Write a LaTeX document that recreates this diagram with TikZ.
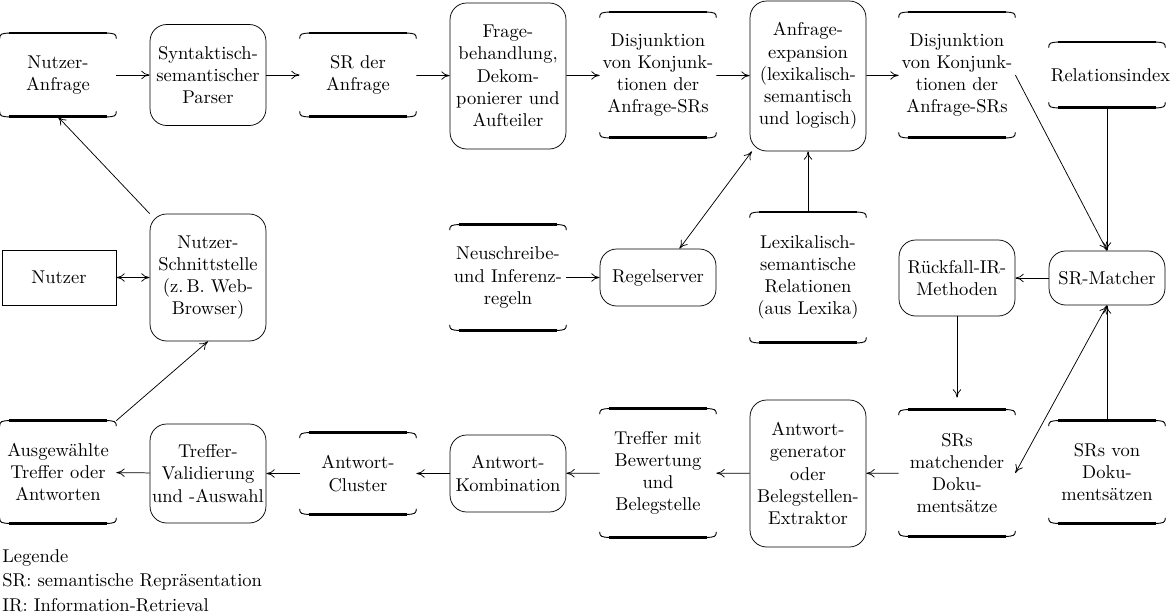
\documentclass[tikz,border=0pt]{standalone}
\usepackage{fontspec}
\usetikzlibrary{arrows.meta}
\newcommand\drawstore[1]{%
 \draw[line width=0.5pt] ([yshift=-3pt]#1.north west) .. controls ([yshift=-0.5pt]#1.north west) and ([xshift=1pt]#1.north west) .. ([xshift=5.5pt]#1.north west) -- ([xshift=-5.5pt]#1.north east) .. controls ([xshift=-1pt]#1.north east) and ([yshift=-0.5pt]#1.north east) .. ([yshift=-3pt]#1.north east);
 \draw[line width=1.3pt] ([xshift=5pt]#1.north west) -- ([xshift=-5pt]#1.north east);
 \draw[line width=0.5pt] ([yshift=3pt]#1.south west) .. controls ([yshift=0.5pt]#1.south west) and ([xshift=1pt]#1.south west) .. ([xshift=5.5pt]#1.south west) -- ([xshift=-5.5pt]#1.south east) .. controls ([xshift=-1pt]#1.south east) and ([yshift=0.5pt]#1.south east) .. ([yshift=3pt]#1.south east);
 \draw[line width=1.6pt] ([xshift=5pt]#1.south west) -- ([xshift=-5pt]#1.south east);
}
\begin{document}
\begin{tikzpicture}[x=0.54pt,y=-0.54pt,
 >={To[length=4.5pt,width=4.5pt]},
 every node/.style={execute at begin node={\hyphenpenalty=10000\exhyphenpenalty=10000}},
 base/.style={align=center, text width=60.6pt, minimum width=62.6pt, inner xsep=1pt, inner ysep=2pt},
 box/.style={base, draw, rounded corners=9pt},
 store/.style={base},
 hh/.style={minimum height=#1*0.54pt},
 conn/.style={->},
 biconn/.style={<->}]
\useasboundingbox (0,0) rectangle (1173,613);
% row 1
\node[store,hh=83] (anf) at (58,75) {Nutzer-\\Anfrage};
\node[box,hh=101] (parser) at (208,75) {Syntaktisch-\\semantischer\\Parser};
\node[store,hh=83] (sra) at (358,75) {SR der\\Anfrage};
\node[box,hh=146] (frage) at (508,76) {Frage-\\behandlung,\\Dekom-\\ponierer und\\Aufteiler};
\node[store,hh=125] (dis1) at (658,75) {Disjunktion\\von Konjunk-\\tionen der\\Anfrage-SRs};
\node[box,hh=150] (exp) at (808,76) {Anfrage-\\expansion\\(lexikalisch-\\semantisch\\und logisch)};
\node[store,hh=125] (dis2) at (957,75) {Disjunktion\\von Konjunk-\\tionen der\\Anfrage-SRs};
\node[store,hh=65] (rel) at (1107,75) {Relationsindex};
% row 2
\node[draw, align=center, minimum width=61.6pt, minimum height=55*0.54pt, inner sep=1pt] (nutzer) at (59,277.5) {Nutzer};
\node[box,hh=127] (nss) at (208,277.5) {Nutzer-\\Schnittstelle\\(z.\,B. Web-\\Browser)};
\node[store,hh=105] (neu) at (508,277.5) {Neuschreibe-\\und Inferenz-\\regeln};
\node[box,hh=57] (regel) at (658,277.5) {Regelserver};
\node[store,hh=130] (lex) at (808,277.5) {Lexikalisch-\\semantische\\Relationen\\(aus Lexika)};
\node[box,hh=76] (rueck) at (957,278) {Rückfall-IR-\\Methoden};
\node[box,hh=54] (srm) at (1107,278) {SR-Matcher};
% row 3
\node[store,hh=102] (ausg) at (58,472) {Ausgewählte\\Treffer oder\\Antworten};
\node[box,hh=99] (tval) at (208,473.5) {Treffer-\\Validierung\\und -Auswahl};
\node[store,hh=81] (aclu) at (358,473.5) {Antwort-\\Cluster};
\node[box,hh=77] (akom) at (508,473.5) {Antwort-\\Kombination};
\node[store,hh=128] (tmb) at (658,473) {Treffer mit\\Bewertung\\und\\Belegstelle};
\node[box,hh=147] (agen) at (808,473.5) {Antwort-\\generator\\oder\\Belegstellen-\\Extraktor};
\node[store,hh=126] (smd) at (957,473) {SRs\\matchender\\Doku-\\mentsätze};
\node[store,hh=102] (sdok) at (1107,472) {SRs von\\Doku-\\mentsätzen};
% legend
\node[anchor=north west, align=left, inner sep=0pt] (leg) at (2,549) {Legende\\[1.2pt]SR: semantische Repräsentation\\[1.2pt]IR: Information-Retrieval};
% store decorations
\foreach \n in {anf,sra,dis1,dis2,rel,neu,lex,ausg,aclu,tmb,smd,sdok} {\drawstore{\n}}
% connectors
\draw[conn] (anf) -- (parser);
\draw[conn] (parser) -- (sra);
\draw[conn] (sra) -- (frage);
\draw[conn] (frage) -- (dis1);
\draw[conn] (dis1) -- (exp);
\draw[conn] (exp) -- (dis2);
\draw[conn] (dis2.east) -- (srm.north);
\draw[conn] (rel) -- (srm);
\draw[conn] (srm) -- (rueck);
\draw[conn] (rueck.south) -- ([yshift=6.5pt]smd.north);
\draw[biconn] (smd.east) -- (srm.south);
\draw[conn] (sdok) -- (srm);
\draw[conn] (lex) -- (exp);
\draw[biconn] (exp) -- (regel);
\draw[conn] (neu) -- (regel);
\draw[biconn] (nutzer) -- (nss);
\draw[conn] (nss.north west) -- (anf.south);
\draw[conn] (ausg.north east) -- (nss.south);
\draw[conn] (smd) -- (agen);
\draw[conn] (agen) -- (tmb);
\draw[conn] (tmb) -- (akom);
\draw[conn] (akom) -- (aclu);
\draw[conn] (aclu) -- (tval);
\draw[conn] (tval) -- (ausg);
\end{tikzpicture}
\end{document}
